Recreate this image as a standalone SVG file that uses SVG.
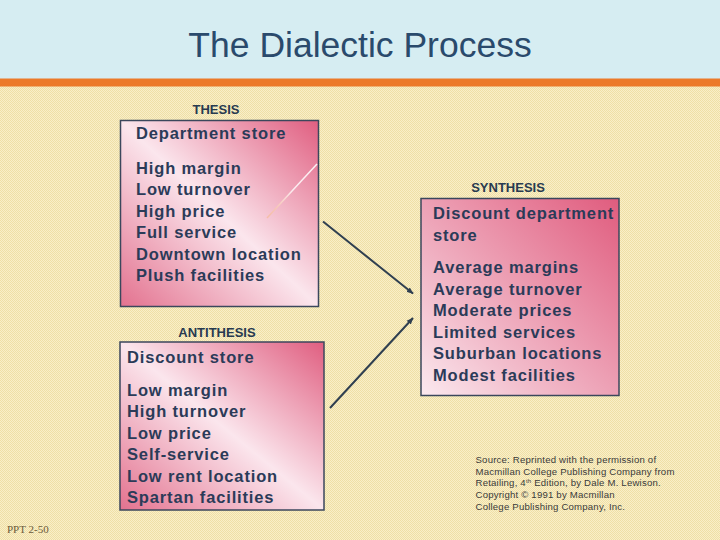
<svg xmlns="http://www.w3.org/2000/svg" width="720" height="540" viewBox="0 0 720 540">
<defs>
<pattern id="bgpat" width="2" height="2" patternUnits="userSpaceOnUse">
<rect width="2" height="2" fill="#f9efc8"/>
<rect width="1" height="1" fill="#efdfa6"/>
<rect x="1" y="1" width="1" height="1" fill="#efdfa6"/>
</pattern>
<linearGradient id="g1" x1="0" y1="1" x2="1" y2="0">
<stop offset="0" stop-color="#e3728f"/>
<stop offset="0.5" stop-color="#fbe6ed"/>
<stop offset="1" stop-color="#e05e80"/>
</linearGradient>
<linearGradient id="g2" x1="0" y1="1" x2="1" y2="0">
<stop offset="0" stop-color="#fbe9ef"/>
<stop offset="0.3" stop-color="#f2bccb"/>
<stop offset="1" stop-color="#e05c7e"/>
</linearGradient>
<linearGradient id="art" x1="0" y1="1" x2="1" y2="0">
<stop offset="0" stop-color="#f5b27a" stop-opacity="0.5"/>
<stop offset="0.5" stop-color="#ffffff" stop-opacity="0.8"/>
<stop offset="1" stop-color="#ffffff" stop-opacity="0.9"/>
</linearGradient>
<marker id="ah" viewBox="0 0 10 10" refX="9" refY="5" markerWidth="7" markerHeight="7" orient="auto" markerUnits="userSpaceOnUse">
<path d="M0,1 L10,5 L0,9 Z" fill="#2f3f50"/>
</marker>
<style>
.box{stroke:#3b475c;stroke-width:1.5}
.lbl{font-family:"Liberation Sans",Arial,sans-serif;font-size:13px;font-weight:bold;fill:#283a50;text-anchor:middle}
.t{font-family:"Liberation Sans",Arial,sans-serif;font-size:16.5px;font-weight:bold;fill:#2b3b58;letter-spacing:0.85px}
.src{font-family:"Liberation Sans",Arial,sans-serif;font-size:9.6px;fill:#3a3a3a;letter-spacing:0.2px}
.conn{stroke:#2f3f50;stroke-width:2;fill:none}
</style>
</defs>
<rect width="720" height="540" fill="url(#bgpat)"/>
<rect width="720" height="79" fill="#d6edf2"/>
<rect y="78.5" width="720" height="8" fill="#ec7a2a"/>
<text x="360" y="57" font-family="'Liberation Sans',Arial,sans-serif" font-size="35.5" fill="#2a4a6c" text-anchor="middle">The Dialectic Process</text>

<g id="thesis">
<text class="lbl" x="216" y="114">THESIS</text>
<rect class="box" x="120.5" y="120.5" width="198" height="186" fill="url(#g1)"/>
<line x1="267" y1="218" x2="317" y2="164" stroke="url(#art)" stroke-width="1.5"/>
<text class="t" x="136" y="138.5">Department store</text>
<text class="t" x="136" y="173.5">High margin</text>
<text class="t" x="136" y="195">Low turnover</text>
<text class="t" x="136" y="216.5">High price</text>
<text class="t" x="136" y="237.5">Full service</text>
<text class="t" x="136" y="259.5">Downtown location</text>
<text class="t" x="136" y="281">Plush facilities</text>
</g>

<g id="antithesis">
<text class="lbl" x="217" y="336.5">ANTITHESIS</text>
<rect class="box" x="120" y="342" width="204" height="168" fill="url(#g1)"/>
<text class="t" x="127" y="362.5">Discount store</text>
<text class="t" x="127" y="396">Low margin</text>
<text class="t" x="127" y="417">High turnover</text>
<text class="t" x="127" y="438.5">Low price</text>
<text class="t" x="127" y="459.5">Self-service</text>
<text class="t" x="127" y="481.5">Low rent location</text>
<text class="t" x="127" y="502.5">Spartan facilities</text>
</g>

<g id="synthesis">
<text class="lbl" x="508" y="192">SYNTHESIS</text>
<rect class="box" x="421" y="198.5" width="198" height="197" fill="url(#g2)"/>
<text class="t" x="433" y="219">Discount department</text>
<text class="t" x="433" y="240.5">store</text>
<text class="t" x="433" y="273">Average margins</text>
<text class="t" x="433" y="294.5">Average turnover</text>
<text class="t" x="433" y="316">Moderate prices</text>
<text class="t" x="433" y="337.5">Limited services</text>
<text class="t" x="433" y="359">Suburban locations</text>
<text class="t" x="433" y="380.5">Modest facilities</text>
</g>

<g id="connectors">
<line class="conn" x1="323" y1="221.5" x2="413" y2="293.5" marker-end="url(#ah)"/>
<line class="conn" x1="330" y1="408" x2="413" y2="318" marker-end="url(#ah)"/>
</g>

<g id="source">
<text class="src" x="475.5" y="462.5">Source: Reprinted with the permission of</text>
<text class="src" x="475.5" y="474.5">Macmillan College Publishing Company from</text>
<text class="src" x="475.5" y="486">Retailing, 4<tspan font-size="6" dy="-3.5">th</tspan><tspan dy="3.5"> Edition, by Dale M. Lewison.</tspan></text>
<text class="src" x="475.5" y="497.5">Copyright © 1991 by Macmillan</text>
<text class="src" x="475.5" y="510">College Publishing Company, Inc.</text>
</g>
<text x="7" y="533" font-family="'Liberation Serif','Times New Roman',serif" font-size="11" fill="#6b5a3a">PPT 2-50</text>
</svg>
